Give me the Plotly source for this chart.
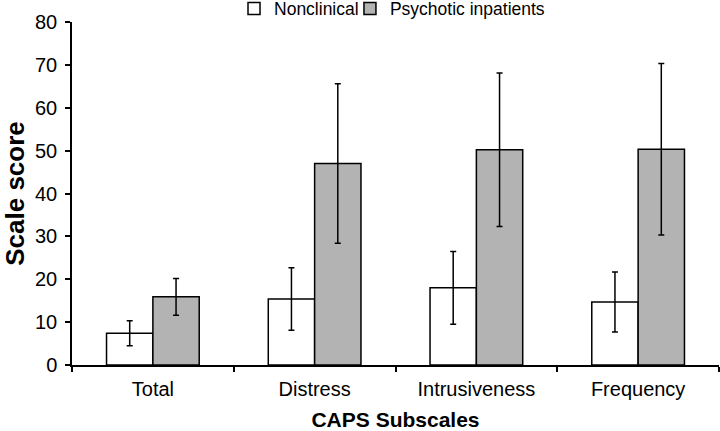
import plotly.graph_objects as go

categories = ["Total", "Distress", "Intrusiveness", "Frequency"]
nonclinical = [7.4, 15.4, 18.0, 14.7]
nonclinical_err = [2.9, 7.3, 8.5, 7.0]
psychotic = [15.9, 47.0, 50.2, 50.3]
psychotic_err = [4.3, 18.6, 17.9, 20.0]
y_ticks = [0, 10, 20, 30, 40, 50, 60, 70, 80]

FONT = "Liberation Sans, Arial, sans-serif"

fig = go.Figure()
fig.add_trace(go.Bar(
    name="Nonclinical", x=categories, y=nonclinical, legend="legend",
    marker=dict(color="white", line=dict(color="black", width=1.5)),
    error_y=dict(type="data", array=nonclinical_err, color="black", thickness=1.5, width=3),
))
fig.add_trace(go.Bar(
    name="Psychotic inpatients", x=categories, y=psychotic, legend="legend2",
    marker=dict(color="#b3b3b3", line=dict(color="black", width=1.5)),
    error_y=dict(type="data", array=psychotic_err, color="black", thickness=1.5, width=3),
))

legend_common = dict(orientation="h", xanchor="left", y=1.039, yanchor="middle",
                     font=dict(size=17.5), itemwidth=30, bgcolor="rgba(0,0,0,0)")

fig.update_layout(
    width=720, height=431,
    margin=dict(l=72, r=1, t=22, b=66, autoexpand=False),
    paper_bgcolor="white", plot_bgcolor="white",
    barmode="group", bargap=0.427, bargroupgap=0,
    font=dict(family=FONT, color="black", size=20),
    showlegend=True,
    legend=dict(x=0.2504, **legend_common),
    legend2=dict(x=0.4296, **legend_common),
    xaxis=dict(
        automargin=False,
        showline=True, linecolor="black", linewidth=1.5,
        ticks="outside", tickson="boundaries", ticklen=5, tickcolor="black", tickwidth=1.5,
        tickfont=dict(size=20), ticklabelstandoff=5,
        title=dict(text="<b>CAPS Subscales</b>", font=dict(size=21), standoff=17),
        showgrid=False, zeroline=False,
    ),
    yaxis=dict(
        automargin=False,
        range=[0, 80], tickvals=y_ticks,
        showline=True, linecolor="black", linewidth=1.5,
        ticks="outside", ticklen=5, tickcolor="black", tickwidth=1.5,
        tickfont=dict(size=20), ticklabelstandoff=4,
        title=dict(text="<b>Scale score</b>", font=dict(size=26), standoff=18),
        showgrid=False, zeroline=False,
    ),
)

fig.write_html("out.html", config={"displayModeBar": False},
               post_script="document.body.style.margin='0px';")
